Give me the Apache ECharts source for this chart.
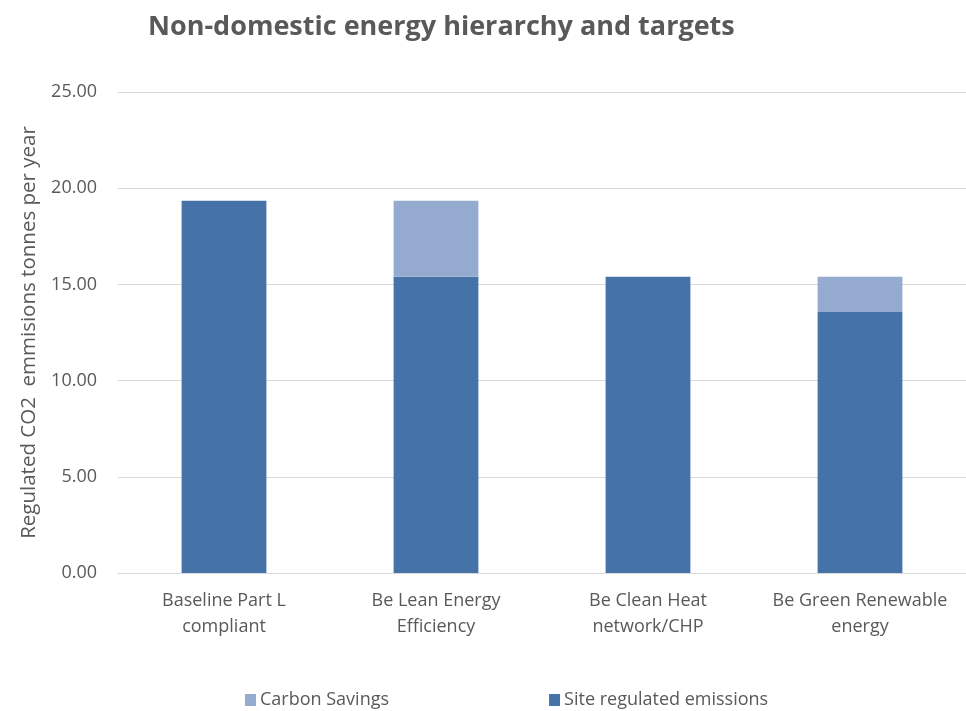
<!DOCTYPE html>
<html><head><meta charset="utf-8">
<script src="https://cdn.jsdelivr.net/npm/echarts@6/dist/echarts.min.js"></script>
<style>html,body{margin:0;padding:0;background:#fff}#c{width:966px;height:711px}</style>
</head><body><div id="c"></div>
<script>
const categories = ['Baseline Part L\ncompliant', 'Be Lean Energy\nEfficiency', 'Be Clean Heat\nnetwork/CHP', 'Be Green Renewable\nenergy'];
const siteEmissions = [19.35, 15.40, 15.40, 13.57];
const carbonSavings = [0, 3.95, 0, 1.83];
const yTicks = [0, 5, 10, 15, 20, 25];

const FONT = "'Open Sans', sans-serif";
const chart = echarts.init(document.getElementById('c'), null, {renderer: 'canvas'});
chart.setOption({
  animation: false,
  title: {
    text: 'Non-domestic energy hierarchy and targets',
    left: 143, top: 9,
    textStyle: {fontFamily: FONT, fontSize: 27, fontWeight: 'bold', color: '#595959'}
  },
  legend: {
    left: 240, top: 686,
    itemWidth: 11, itemHeight: 12, itemGap: 160,
    icon: 'rect',
    textStyle: {fontFamily: FONT, fontSize: 18, color: '#595959', padding: [0, 0, 0, -1]},
    data: ['Carbon Savings', 'Site regulated emissions']
  },
  grid: {left: 118, right: -10, top: 92, bottom: 138, containLabel: false},
  xAxis: {
    type: 'category', data: categories,
    axisLine: {lineStyle: {color: '#d9d9d9', width: 1}},
    axisTick: {show: false},
    axisLabel: {fontFamily: FONT, fontSize: 18, color: '#595959', lineHeight: 26, margin: 15,
      interval: 0, hideOverlap: false}
  },
  yAxis: {
    type: 'value', min: yTicks[0], max: yTicks[yTicks.length - 1], interval: 5,
    name: 'Regulated CO2  emmisions tonnes per year',
    nameLocation: 'middle', nameGap: 78, nameRotate: 90,
    nameTextStyle: {fontFamily: FONT, fontSize: 20.5, color: '#595959'},
    axisLine: {show: false}, axisTick: {show: false},
    axisLabel: {fontFamily: FONT, fontSize: 18, color: '#595959', margin: 21,
      formatter: v => v.toFixed(2)},
    splitLine: {lineStyle: {color: '#d9d9d9', width: 1}}
  },
  series: [
    {name: 'Site regulated emissions', type: 'bar', stack: 's', data: siteEmissions,
     barWidth: '40%', itemStyle: {color: '#4673A7'}},
    {name: 'Carbon Savings', type: 'bar', stack: 's', data: carbonSavings,
     barWidth: '40%', itemStyle: {color: '#95AACF'}}
  ]
});
</script></body></html>
